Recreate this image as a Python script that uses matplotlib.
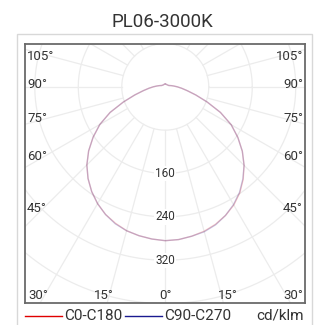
"""
配光曲线图 PL06-3000K - matplotlib 重绘
"""
import numpy as np
import matplotlib
matplotlib.use('Agg')
import matplotlib.pyplot as plt
from matplotlib.patches import Rectangle

# 数据 (cd/klm)
gamma = [0, 5, 10, 15, 20, 25, 30, 35, 40, 45, 50, 55, 60, 65, 70, 75,
         80, 85, 90, 95, 100, 105, 110, 120, 135, 150, 165, 180]
c0 = [284, 283, 280, 276, 270, 262, 252, 239, 223, 205, 185, 163, 140, 112, 82, 58,
      41, 30, 22, 16, 12, 9, 7, 6, 5, 5, 5, 5]
c180 = [284, 282, 279, 275, 268, 260, 249, 236, 221, 204, 184, 162, 139, 112, 82, 58,
        41, 30, 22, 16, 12, 9, 7, 6, 5, 5, 5, 5]
c90 = [284, 283, 280, 277, 271, 262, 251, 238, 222, 205, 185, 163, 140, 112, 82, 58,
       41, 30, 22, 16, 12, 9, 7, 6, 5, 5, 5, 5]
c270 = [284, 282, 279, 275, 269, 260, 249, 236, 221, 204, 184, 162, 139, 112, 82, 58,
        41, 30, 22, 16, 12, 9, 7, 6, 5, 5, 5, 5]

radial_ticks = [160, 240, 320]
left_labels = ['105°', '90°', '75°', '60°', '45°']
bottom_labels = ['30°', '15°', '0°', '15°', '30°']

plt.rcParams['font.family'] = ['Roboto', 'DejaVu Sans']

W, H = 316, 325
fig = plt.figure(figsize=(W / 100, H / 100), dpi=100)

# 外框
fig.patches.append(Rectangle((17 / W, -0.1), 295 / W, 1.1 - 34 / H,
                             transform=fig.transFigure, fill=False,
                             edgecolor='#d8d8d8', linewidth=1.0))

# 图框位置（像素）
L, R, T, B = 25, 305, 44, 303
ax = fig.add_axes([L / W, 1 - B / H, (R - L) / W, (B - T) / H])
ax.set_xlim(-258, 257)
ax.set_ylim(-399, 79)
ax.set_xticks([])
ax.set_yticks([])
for sp in ax.spines.values():
    sp.set_color('#6a6a6a')
    sp.set_linewidth(1.3)

# 网格：同心圆 + 径向线
grid_color = '#ececec'
t = np.linspace(0, 2 * np.pi, 400)
for r in range(80, 640, 80):
    ax.plot(r * np.cos(t), r * np.sin(t), color=grid_color, lw=0.9, zorder=1)
for a in range(0, 360, 15):
    ar = np.radians(a)
    ax.plot([80 * np.sin(ar), 700 * np.sin(ar)], [-80 * np.cos(ar), -700 * np.cos(ar)],
            color=grid_color, lw=0.9, zorder=1)


def to_xy(g, left, right):
    g = np.radians(np.array(g, dtype=float))
    left = np.array(left, dtype=float)
    right = np.array(right, dtype=float)
    x = np.concatenate([-(left * np.sin(g))[::-1], right * np.sin(g)])
    y = np.concatenate([-(left * np.cos(g))[::-1], -right * np.cos(g)])
    return x, y


x1, y1 = to_xy(gamma, c180, c0)
x2, y2 = to_xy(gamma, c270, c90)
ax.plot(x1, y1, color='#e01010', lw=1.0, alpha=0.22, zorder=3)
ax.plot(x2, y2, color='#1a1a90', lw=1.0, alpha=0.22, zorder=3)

# 径向刻度
for r in radial_ticks:
    ax.text(0, -r, str(r), ha='center', va='center', fontsize=8.5, color='#333333',
            bbox=dict(boxstyle='square,pad=0.1', facecolor='white', edgecolor='none'),
            zorder=4)

# 角度标签
left_y = [56, 84, 118, 156, 208]
for lab, py in zip(left_labels, left_y):
    yy = (B - py) / (B - T)
    ax.text(2 / (R - L), yy, lab, transform=ax.transAxes, ha='left', va='center',
            fontsize=9.5, color='#333333', zorder=5)
    ax.text(1 - 2 / (R - L), yy, lab, transform=ax.transAxes, ha='right', va='center',
            fontsize=9.5, color='#333333', zorder=5)

bottom_x = [28, 104, 166, 228, 303]
bottom_ha = ['left', 'center', 'center', 'center', 'right']
for lab, px, ha in zip(bottom_labels, bottom_x, bottom_ha):
    ax.text((px - L) / (R - L), 1 / (B - T), lab, transform=ax.transAxes,
            ha=ha, va='bottom', fontsize=9.5, color='#333333', zorder=5)

# 标题
fig.text(162 / W, 1 - 22 / H, 'PL06-3000K', ha='center', va='center',
         fontsize=13.5, color='#333333')

# 图例
ly = 1 - 316 / H
fig.add_artist(plt.Line2D([25 / W, 62 / W], [ly, ly], color='#e00000', lw=1.0))
fig.text(64 / W, ly, 'C0-C180', ha='left', va='center', fontsize=11, color='#333333')
fig.add_artist(plt.Line2D([125 / W, 162 / W], [ly, ly], color='#1a1a90', lw=1.0))
fig.text(164 / W, ly, 'C90-C270', ha='left', va='center', fontsize=11, color='#333333')
fig.text(304 / W, ly, 'cd/klm', ha='right', va='center', fontsize=11, color='#333333')

plt.savefig('out.png', dpi=100, facecolor='white')
plt.close()
